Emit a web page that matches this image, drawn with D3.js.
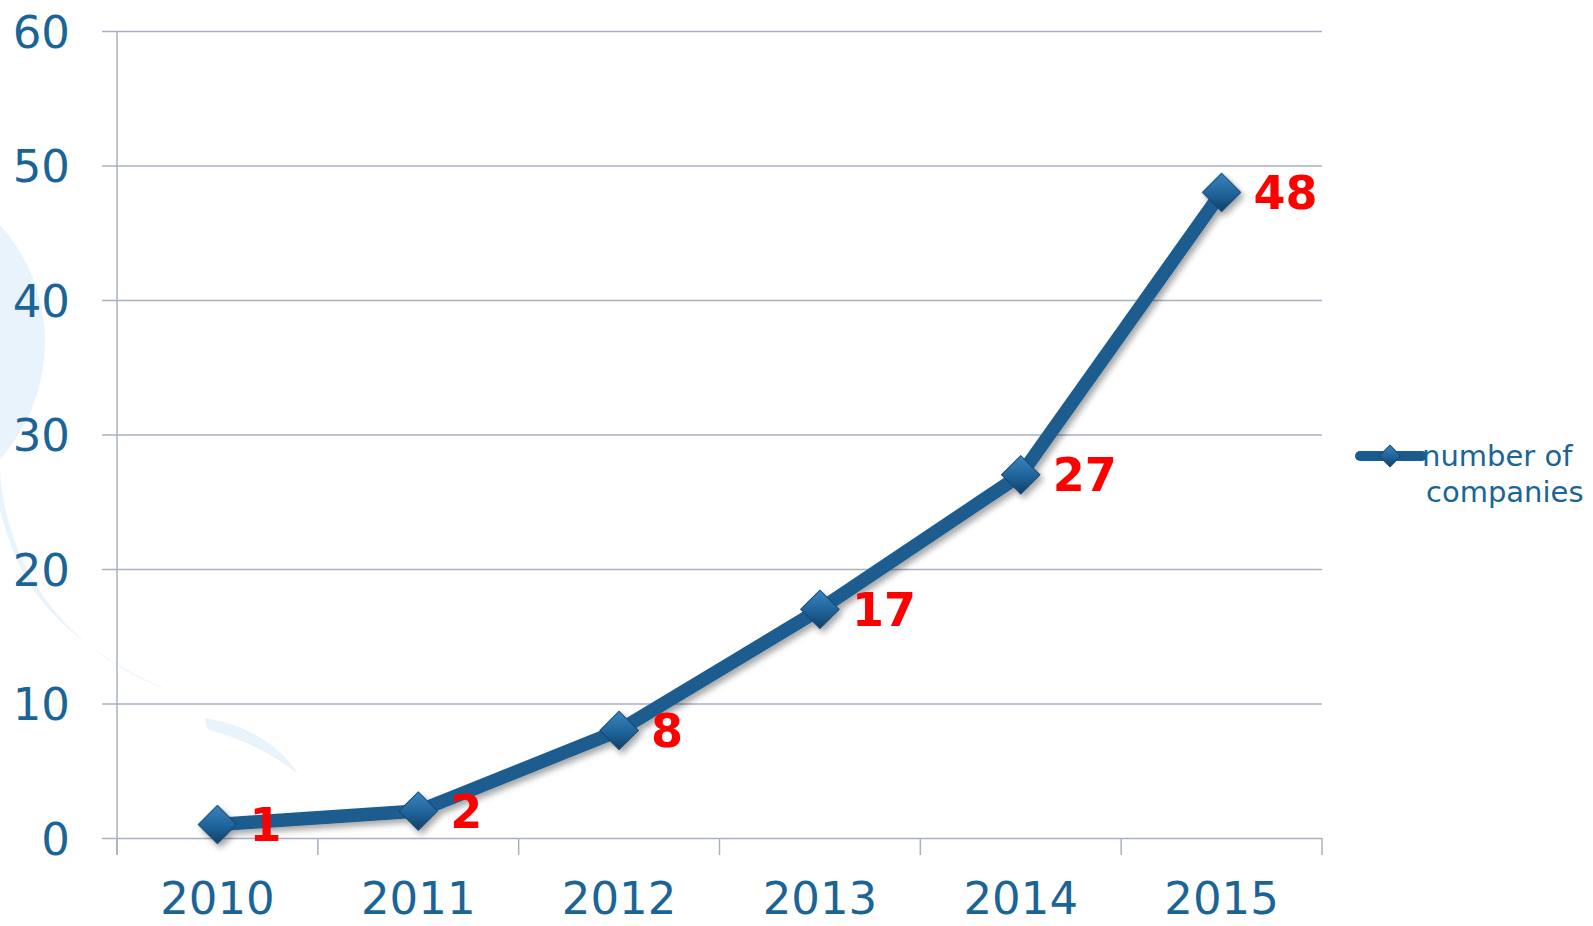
<!DOCTYPE html>
<html>
<head>
<meta charset="utf-8">
<script src="https://cdn.jsdelivr.net/npm/d3@7"></script>
<style>
    html, body { margin: 0; padding: 0; background: #ffffff; }
    svg { display: block; }
</style>
</head>
<body>
<div id="chart"></div>
<script>
const years = ['2010', '2011', '2012', '2013', '2014', '2015'];
const companies = [1, 2, 8, 17, 27, 48];
const yTicks = [0, 10, 20, 30, 40, 50, 60];
const seriesName = ['number of', 'companies'];

const width = 1593;
const height = 926;
const plot = { left: 117, right: 1322, top: 31, bottom: 838 };

const svg = d3.select('#chart').append('svg')
    .attr('width', width)
    .attr('height', height);

const defs = svg.append('defs');

defs.append('filter')
        .attr('id', 'shadow')
        .attr('x', '-20%').attr('y', '-20%')
        .attr('width', '140%').attr('height', '140%')
    .append('feDropShadow')
        .attr('dx', 3).attr('dy', 4)
        .attr('stdDeviation', 3)
        .attr('flood-color', '#000')
        .attr('flood-opacity', 0.35);

const grad = defs.append('linearGradient')
    .attr('id', 'diamond')
    .attr('x1', 0).attr('y1', 0).attr('x2', 1).attr('y2', 1);
grad.append('stop').attr('offset', '0%').attr('stop-color', '#3a84bf');
grad.append('stop').attr('offset', '55%').attr('stop-color', '#1f6399');
grad.append('stop').attr('offset', '100%').attr('stop-color', '#123f66');

// faint background swirl
const bg = svg.append('g').attr('fill', '#e9f3fb');
bg.append('circle').attr('cx', -130).attr('cy', 342).attr('r', 175);
bg.append('path')
    .attr('d', 'M0,470 C5,560 60,650 168,690 C110,665 60,630 30,585 C15,560 5,530 0,510 Z');
bg.append('path')
    .attr('d', 'M205,718 C245,724 280,745 298,774 C270,752 240,738 207,729 Z');

const x = d3.scaleBand()
    .domain(years)
    .range([plot.left, plot.right]);

const y = d3.scaleLinear()
    .domain([0, 60])
    .range([plot.bottom, plot.top]);

// y axis with gridlines
svg.append('g')
        .attr('transform', `translate(${plot.right},0)`)
        .call(d3.axisLeft(y)
            .tickValues(yTicks)
            .tickSize(plot.right - 102)
            .tickPadding(32))
        .call(g => g.select('.domain').remove())
        .call(g => g.selectAll('.tick line')
            .attr('stroke', '#a8b1c2')
            .attr('stroke-width', 1.5))
        .call(g => g.selectAll('.tick text')
            .attr('fill', '#1a6496')
            .attr('font-family', 'DejaVu Sans, Verdana, sans-serif')
            .attr('font-size', '45px')
            .attr('dy', '0.36em'));

// vertical axis line
svg.append('line')
    .attr('x1', plot.left).attr('x2', plot.left)
    .attr('y1', plot.top).attr('y2', plot.bottom + 17)
    .attr('stroke', '#a8b1c2')
    .attr('stroke-width', 1.5);

// x ticks at category boundaries
svg.append('g')
        .attr('stroke', '#a8b1c2')
        .attr('stroke-width', 1.5)
    .selectAll('line')
    .data(years.map(d => x(d)).concat(x.range()[1]))
    .join('line')
        .attr('x1', d => d).attr('x2', d => d)
        .attr('y1', plot.bottom).attr('y2', plot.bottom + 17);

// x labels
svg.append('g')
        .attr('transform', `translate(0,${plot.bottom})`)
        .call(d3.axisBottom(x).tickSize(0).tickPadding(0))
        .call(g => g.select('.domain').remove())
        .call(g => g.selectAll('.tick text')
            .attr('y', 76)
            .attr('dy', 0)
            .attr('fill', '#1a6496')
            .attr('font-family', 'DejaVu Sans, Verdana, sans-serif')
            .attr('font-size', '45px'));

const cx = (d, i) => x(years[i]) + x.bandwidth() / 2;
const line = d3.line()
    .x(cx)
    .y(d => y(d));

const series = svg.append('g').attr('filter', 'url(#shadow)');

series.append('path')
    .datum(companies)
    .attr('fill', 'none')
    .attr('stroke', '#1a5b8f')
    .attr('stroke-width', 13.5)
    .attr('stroke-linejoin', 'round')
    .attr('d', line);

const diamond = d3.symbol(d3.symbolSquare, 740);

series.selectAll('.marker')
    .data(companies)
    .join('path')
        .attr('class', 'marker')
        .attr('transform', (d, i) => `translate(${cx(d, i)},${y(d)}) rotate(45)`)
        .attr('d', diamond)
        .attr('fill', 'url(#diamond)')
        .attr('stroke', '#154a75')
        .attr('stroke-width', 1);

// value labels
svg.append('g')
        .attr('fill', '#ff0000')
        .attr('font-family', 'DejaVu Sans, Verdana, sans-serif')
        .attr('font-weight', 'bold')
        .attr('font-size', '46px')
    .selectAll('text')
    .data(companies)
    .join('text')
        .attr('x', (d, i) => cx(d, i) + 32)
        .attr('y', d => y(d))
        .attr('dy', '0.36em')
        .text(d => d);

// legend
const legend = svg.append('g').attr('transform', 'translate(1360,456)');
legend.append('line')
    .attr('x1', 0).attr('x2', 62)
    .attr('y1', 0).attr('y2', 0)
    .attr('stroke', '#1a5b8f')
    .attr('stroke-width', 10)
    .attr('stroke-linecap', 'round');
legend.append('path')
    .attr('transform', 'translate(30,0) rotate(45)')
    .attr('d', d3.symbol(d3.symbolSquare, 230))
    .attr('fill', 'url(#diamond)')
    .attr('stroke', '#154a75');
legend.append('g')
        .attr('fill', '#1a6496')
        .attr('font-family', 'DejaVu Sans, Verdana, sans-serif')
        .attr('font-size', '29px')
    .selectAll('text')
    .data(seriesName)
    .join('text')
        .attr('x', (d, i) => i === 0 ? 62 : 66)
        .attr('y', (d, i) => 10 + i * 36)
        .text(d => d);
</script>
</body>
</html>
